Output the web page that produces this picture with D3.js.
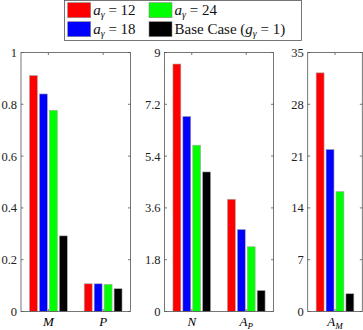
<!DOCTYPE html>
<html><head><meta charset="utf-8">
<script src="https://cdn.jsdelivr.net/npm/d3@7"></script>
<style>body{margin:0;background:#fff}svg{display:block}svg text{font-family:"Liberation Serif","Times New Roman","DejaVu Serif",serif}</style>
</head><body>
<svg id="c" width="363" height="330"></svg>
<script>
// Data
const seriesNames = ["a12", "a18", "a24", "base"];
const seriesColors = ["#ff0000", "#0000ff", "#00ff00", "#000000"];
const panel1Cats = ["M", "P"];
const panel1Vals = [[0.911, 0.840, 0.777, 0.292], [0.107, 0.107, 0.105, 0.088]];
const panel1Ticks = [0, 0.2, 0.4, 0.6, 0.8, 1];
const panel2Cats = ["N", "A_P"];
const panel2Vals = [[8.6, 6.78, 5.78, 4.85], [3.9, 2.85, 2.25, 0.73]];
const panel2Ticks = [0, 1.8, 3.6, 5.4, 7.2, 9];
const panel3Cats = ["A_M"];
const panel3Vals = [[32.25, 21.9, 16.2, 2.4]];
const panel3Ticks = [0, 7, 14, 21, 28, 35];

const svg = d3.select("#c");
const plotTop = 52.5, plotBottom = 311.5;
const axisColor = "#555";

const panels = [
  {x0: 21, x1: 130.5, cats: panel1Cats, vals: panel1Vals, ticks: panel1Ticks, fmt: d => String(d)},
  {x0: 164.5, x1: 273.5, cats: panel2Cats, vals: panel2Vals, ticks: panel2Ticks, fmt: d => String(d)},
  {x0: 307.7, x1: 362.3, cats: panel3Cats, vals: panel3Vals, ticks: panel3Ticks, fmt: d => String(d)}
];

function catLabel(g, name) {
  const t = g.append("text").attr("text-anchor", "middle").attr("font-size", 13);
  if (name.includes("_")) {
    const [a, b] = name.split("_");
    t.append("tspan").attr("font-style", "italic").text(a);
    t.append("tspan").attr("font-style", "italic").attr("font-size", 9).attr("dy", 3).text(b);
  } else {
    t.append("tspan").attr("font-style", "italic").text(name);
  }
  return t;
}

const n = seriesNames.length;
const groupW = Math.min(0.8, n / (n + 1.5));
const slot = groupW / n;
const barW = slot * 0.8;

panels.forEach(p => {
  const x = d3.scaleLinear().domain([0.5, p.cats.length + 0.5]).range([p.x0, p.x1]);
  const y = d3.scaleLinear().domain([0, p.ticks[p.ticks.length - 1]]).range([plotBottom, plotTop]);
  const g = svg.append("g");
  p.vals.forEach((vals, ci) => {
    vals.forEach((v, si) => {
      const c = ci + 1 - groupW / 2 + slot * (si + 0.5);
      g.append("rect")
        .attr("x", x(c - barW / 2)).attr("width", x(c + barW / 2) - x(c - barW / 2))
        .attr("y", y(v)).attr("height", y(0) - y(v))
        .attr("fill", seriesColors[si]).attr("stroke", "#aaa").attr("stroke-width", 0.6);
    });
  });
  g.append("rect").attr("x", p.x0).attr("y", plotTop).attr("width", p.x1 - p.x0).attr("height", plotBottom - plotTop)
    .attr("fill", "none").attr("stroke", axisColor).attr("stroke-width", 0.8);
  const yAxis = d3.axisLeft(y).tickValues(p.ticks).tickSize(0).tickPadding(4).tickFormat(p.fmt);
  const ya = g.append("g").attr("transform", `translate(${p.x0},0)`).call(yAxis);
  ya.select(".domain").remove();
  ya.attr("font-family", null);
  ya.selectAll("text").attr("font-size", 12.5).attr("fill", "#222");
  p.ticks.forEach(t => {
    g.append("line").attr("x1", p.x0).attr("x2", p.x0 + 2.5).attr("y1", y(t)).attr("y2", y(t)).attr("stroke", axisColor).attr("stroke-width", 0.8);
    g.append("line").attr("x1", p.x1).attr("x2", p.x1 - 2.5).attr("y1", y(t)).attr("y2", y(t)).attr("stroke", axisColor).attr("stroke-width", 0.8);
  });
  p.cats.forEach((c, i) => {
    const xc = x(i + 1);
    g.append("line").attr("x1", xc).attr("x2", xc).attr("y1", plotTop).attr("y2", plotTop + 2.5).attr("stroke", axisColor).attr("stroke-width", 0.8);
    g.append("line").attr("x1", xc).attr("x2", xc).attr("y1", plotBottom).attr("y2", plotBottom - 2.5).attr("stroke", axisColor).attr("stroke-width", 0.8);
    catLabel(g, c).attr("x", xc).attr("y", 325.5);
  });
});

// Legend
const leg = svg.append("g");
leg.append("rect").attr("x", 64.5).attr("y", 0.5).attr("width", 237).attr("height", 40).attr("fill", "#fff").attr("stroke", axisColor).attr("stroke-width", 0.8);
const legendItems = [
  {si: 0, x: 67.7, y: 2.7, label: "12"},
  {si: 2, x: 149, y: 2.7, label: "24"},
  {si: 1, x: 67.7, y: 21.7, label: "18"},
  {si: 3, x: 149, y: 21.7, label: null}
];
legendItems.forEach(it => {
  leg.append("rect").attr("x", it.x).attr("y", it.y).attr("width", 23).attr("height", 15)
    .attr("fill", seriesColors[it.si]).attr("stroke", "#888").attr("stroke-width", 0.6);
  const t = leg.append("text").attr("x", it.x + 25.5).attr("y", it.y + 12.5).attr("font-size", 15).attr("fill", "#111");
  if (it.label) {
    t.append("tspan").attr("font-style", "italic").text("a");
    t.append("tspan").attr("font-style", "italic").attr("font-size", 10).attr("dy", 3).text("γ");
    t.append("tspan").attr("dy", -3).text(" = " + it.label);
  } else {
    t.append("tspan").text("Base Case (");
    t.append("tspan").attr("font-style", "italic").text("g");
    t.append("tspan").attr("font-style", "italic").attr("font-size", 10).attr("dy", 3).text("γ");
    t.append("tspan").attr("dy", -3).text(" = 1)");
  }
});
</script>
</body></html>
